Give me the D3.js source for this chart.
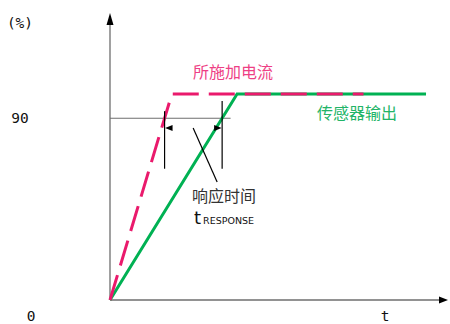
<!DOCTYPE html>
<html>
<head>
<meta charset="utf-8">
<script src="https://cdn.jsdelivr.net/npm/d3@7/dist/d3.min.js"></script>
<style>
  html, body { margin: 0; padding: 0; background: #fff; }
  svg { display: block; }
</style>
</head>
<body>
<script>
// Step response: applied current vs. sensor output (time in arbitrary units, level in %)
const currentPoints = [ { t: 0, v: 0 }, { t: 18.3, v: 102 }, { t: 75, v: 102 } ];
const outputPoints  = [ { t: 0, v: 0 }, { t: 37.6, v: 102 }, { t: 93.5, v: 102 } ];
const thresholdLevel = 90;
const yTickLabels = [ { v: 90, text: "90" }, { v: 0, text: "0" } ];
const seriesLabels = { current: "所施加电流", output: "传感器输出" };

const W = 450, H = 324;
const pink = "#ea1a6c", green = "#00b153", axisGrey = "#6e6e6e";

const x = d3.scaleLinear().domain([0, 100]).range([110, 448]);
const y = d3.scaleLinear().domain([0, 102]).range([300, 94]);

const svg = d3.select("body").append("svg").attr("width", W).attr("height", H);

// crossing time of a rising polyline segment with a given level
function crossing(points, level) {
  const a = points[0], b = points[1];
  return a.t + (b.t - a.t) * (level - a.v) / (b.v - a.v);
}
const tCurrent = crossing(currentPoints, thresholdLevel);
const tOutput = crossing(outputPoints, thresholdLevel);

// axes with arrowheads
const x0 = x(0), y0 = y(0);
const xEnd = x.range()[1], yTop = 13;
svg.append("line").attr("x1", x0).attr("y1", y0).attr("x2", xEnd - 8).attr("y2", y0)
  .attr("stroke", axisGrey).attr("stroke-width", 1.3);
svg.append("line").attr("x1", x0).attr("y1", y0).attr("x2", x0).attr("y2", yTop + 11)
  .attr("stroke", axisGrey).attr("stroke-width", 1.3);
svg.append("path").attr("d", `M${xEnd},${y0} L${xEnd - 9},${y0 - 3.5} L${xEnd - 9},${y0 + 3.5} Z`).attr("fill", "#000");
svg.append("path").attr("d", `M${x0},${yTop} L${x0 - 3.5},${yTop + 12} L${x0 + 3.5},${yTop + 12} Z`).attr("fill", "#000");

// threshold line at 90 %
svg.append("line")
  .attr("x1", x0).attr("x2", x(tOutput + 2.5))
  .attr("y1", y(thresholdLevel)).attr("y2", y(thresholdLevel))
  .attr("stroke", axisGrey).attr("stroke-width", 1.2);

// axis labels
const mono = "'DejaVu Sans Mono', monospace";
svg.selectAll("text.ytick").data(yTickLabels).enter().append("text")
  .attr("class", "ytick")
  .attr("x", d => d.v === 0 ? 31 : 20)
  .attr("y", d => d.v === 0 ? 321 : y(d.v) + 5)
  .attr("text-anchor", "middle")
  .attr("font-family", mono).attr("font-size", 14.5).attr("fill", "#111")
  .text(d => d.text);
svg.append("text").attr("x", 20).attr("y", 28).attr("text-anchor", "middle")
  .attr("font-family", mono).attr("font-size", 14.5).attr("fill", "#111").text("(%)");
svg.append("text").attr("x", 385).attr("y", 321).attr("text-anchor", "middle")
  .attr("font-family", mono).attr("font-size", 14.5).attr("fill", "#111").text("t");

// series
const line = d3.line().x(d => x(d.t)).y(d => y(d.v));
svg.append("path").datum(outputPoints).attr("d", line)
  .attr("fill", "none").attr("stroke", green).attr("stroke-width", 3);
svg.append("path").datum(currentPoints).attr("d", line)
  .attr("fill", "none").attr("stroke", pink).attr("stroke-width", 3)
  .attr("stroke-dasharray", "26,10");

// response-time markers
const mk = svg.append("g").attr("stroke", "#000").attr("stroke-width", 1.2);
const bottomV = 65, arrowV = 85.2;
mk.append("line").attr("x1", x(tCurrent)).attr("x2", x(tCurrent)).attr("y1", y(93.5)).attr("y2", y(bottomV));
mk.append("line").attr("x1", x(tOutput)).attr("x2", x(tOutput)).attr("y1", y(98.5)).attr("y2", y(bottomV));
const ay = y(arrowV);
svg.append("path").attr("fill", "#000")
  .attr("d", `M${x(tCurrent) + 0.5},${ay} L${x(tCurrent) + 8},${ay - 3} L${x(tCurrent) + 8},${ay + 3} Z`);
svg.append("path").attr("fill", "#000")
  .attr("d", `M${x(tOutput) - 0.5},${ay} L${x(tOutput) - 8},${ay - 3} L${x(tOutput) - 8},${ay + 3} Z`);
mk.append("line").attr("x1", x(24.6)).attr("y1", y(85.2)).attr("x2", x(31.7)).attr("y2", y(58.4));

// text labels
const cjk = "'Noto Sans CJK SC', 'Noto Sans', sans-serif";
svg.append("text").attr("x", 193).attr("y", 78)
  .attr("font-family", cjk).attr("font-size", 16).attr("fill", "#ee3f85")
  .text(seriesLabels.current);
svg.append("text").attr("x", 317).attr("y", 119)
  .attr("font-family", cjk).attr("font-size", 16).attr("fill", "#22b467")
  .text(seriesLabels.output);
svg.append("text").attr("x", 192).attr("y", 202)
  .attr("font-family", cjk).attr("font-size", 16).attr("fill", "#333")
  .text("响应时间");
const tr = svg.append("text").attr("x", 194).attr("y", 224)
  .attr("font-family", "'DejaVu Sans', sans-serif").attr("fill", "#111");
tr.append("tspan").attr("font-size", 18).text("t");
tr.append("tspan").attr("font-size", 9.5).attr("dx", 2).text("RESPONSE");
</script>
</body>
</html>
